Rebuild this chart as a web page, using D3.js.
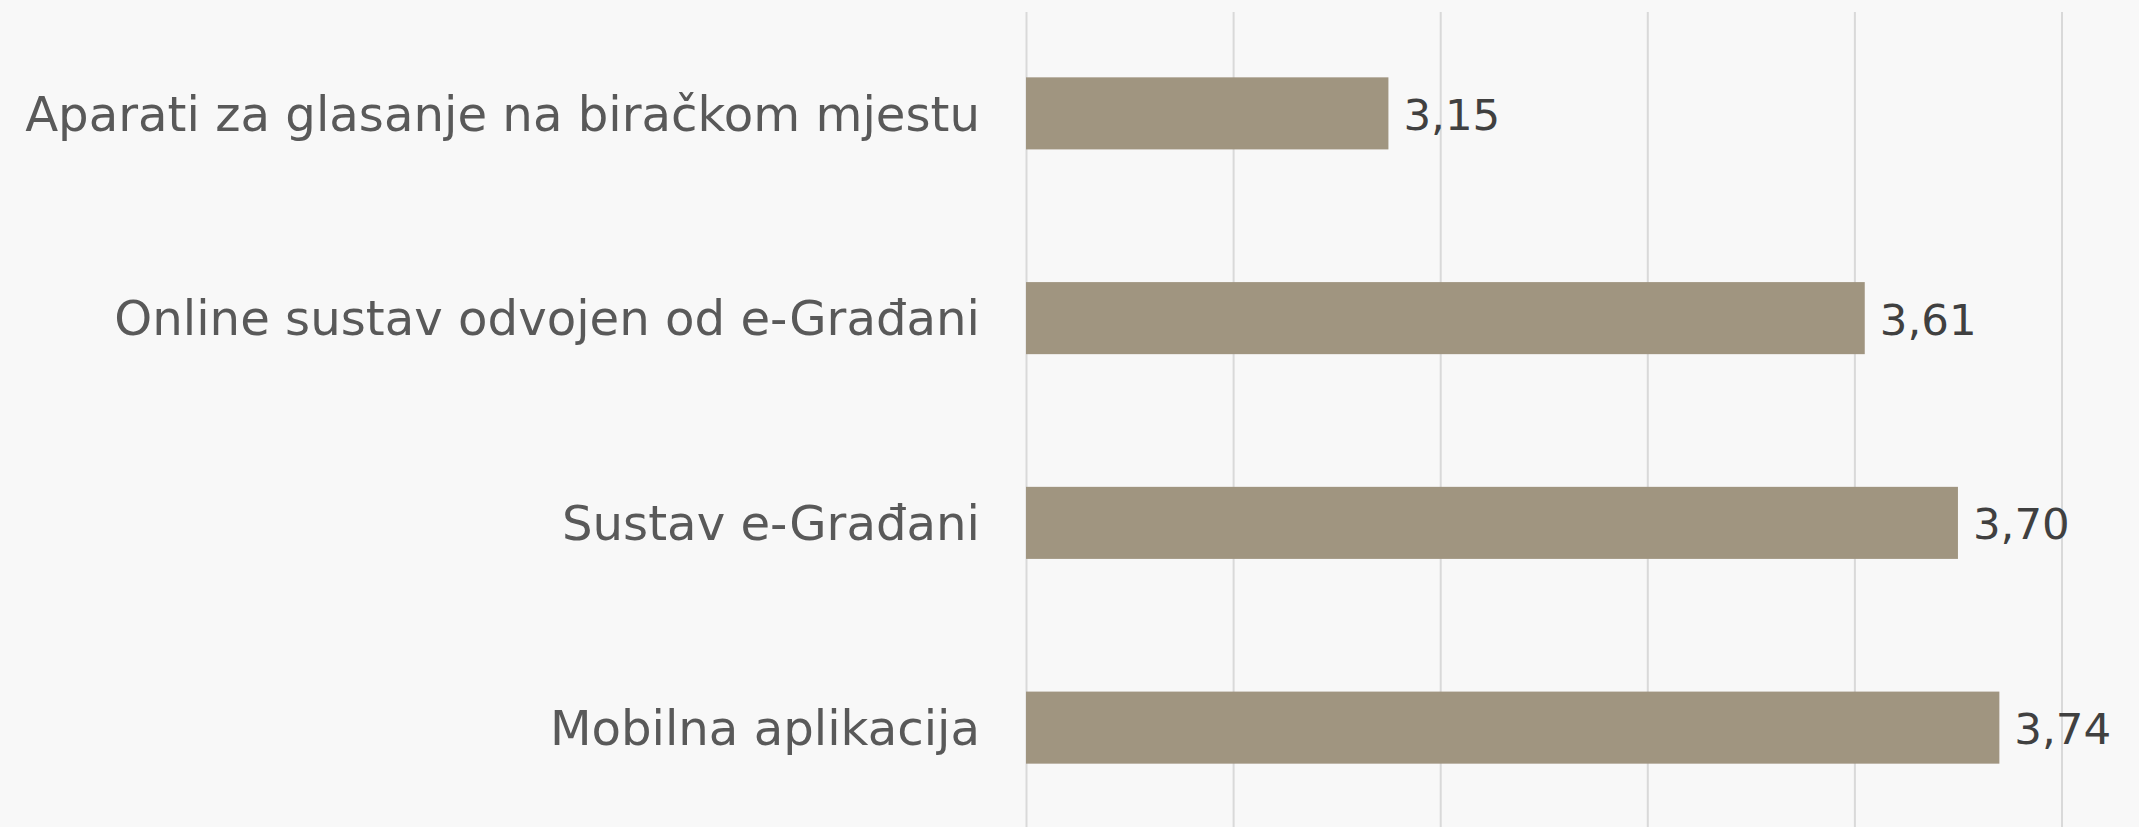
<!DOCTYPE html>
<html>
<head>
<meta charset="utf-8">
<script src="https://cdn.jsdelivr.net/npm/d3@7"></script>
<style>
  html, body { margin: 0; padding: 0; background: #f8f8f8; overflow: hidden; }
  svg { display: block; }
</style>
</head>
<body>
<script>
const categories = [
  "Aparati za glasanje na biračkom mjestu",
  "Online sustav odvojen od e-Građani",
  "Sustav e-Građani",
  "Mobilna aplikacija"
];
const values = [3.15, 3.61, 3.70, 3.74];
const valueLabels = ["3,15", "3,61", "3,70", "3,74"];
const gridTicks = [2.8, 3.0, 3.2, 3.4, 3.6, 3.8];

const W = 2139, H = 827;
const svg = d3.select("body").append("svg").attr("width", W).attr("height", H);
svg.append("rect").attr("width", W).attr("height", H).attr("fill", "#f8f8f8");

const x = d3.scaleLinear().domain([2.8, 3.8]).range([1026, 2061.5]);
const y = d3.scaleBand().domain(categories).range([11, 830]).paddingInner(0.648).paddingOuter(0.324);

// gridlines
svg.append("g")
  .attr("transform", `translate(0,12)`)
  .call(d3.axisBottom(x).tickValues(gridTicks).tickSize(H).tickFormat(""))
  .call(g => g.select(".domain").remove())
  .call(g => g.selectAll(".tick line").attr("stroke", "#d9d9d9").attr("stroke-width", 2));

// bars
svg.append("g").selectAll("rect").data(values).join("rect")
  .attr("x", x(2.8))
  .attr("y", (d, i) => y(categories[i]))
  .attr("width", d => x(d) - x(2.8))
  .attr("height", y.bandwidth())
  .attr("fill", "#a09580");

// category labels
svg.append("g").selectAll("text").data(categories).join("text")
  .attr("x", 980)
  .attr("y", d => y(d) + y.bandwidth() / 2)
  .attr("dy", "0.36em")
  .attr("text-anchor", "end")
  .attr("font-family", "DejaVu Sans")
  .attr("font-size", 48.2)
  .attr("fill", "#595959")
  .text(d => d);

// value labels
svg.append("g").selectAll("text").data(values).join("text")
  .attr("x", d => x(d) + 15)
  .attr("y", (d, i) => y(categories[i]) + y.bandwidth() / 2)
  .attr("dy", "0.38em")
  .attr("font-family", "DejaVu Sans")
  .attr("font-size", 43.5)
  .attr("fill", "#404040")
  .text((d, i) => valueLabels[i]);
</script>
</body>
</html>
